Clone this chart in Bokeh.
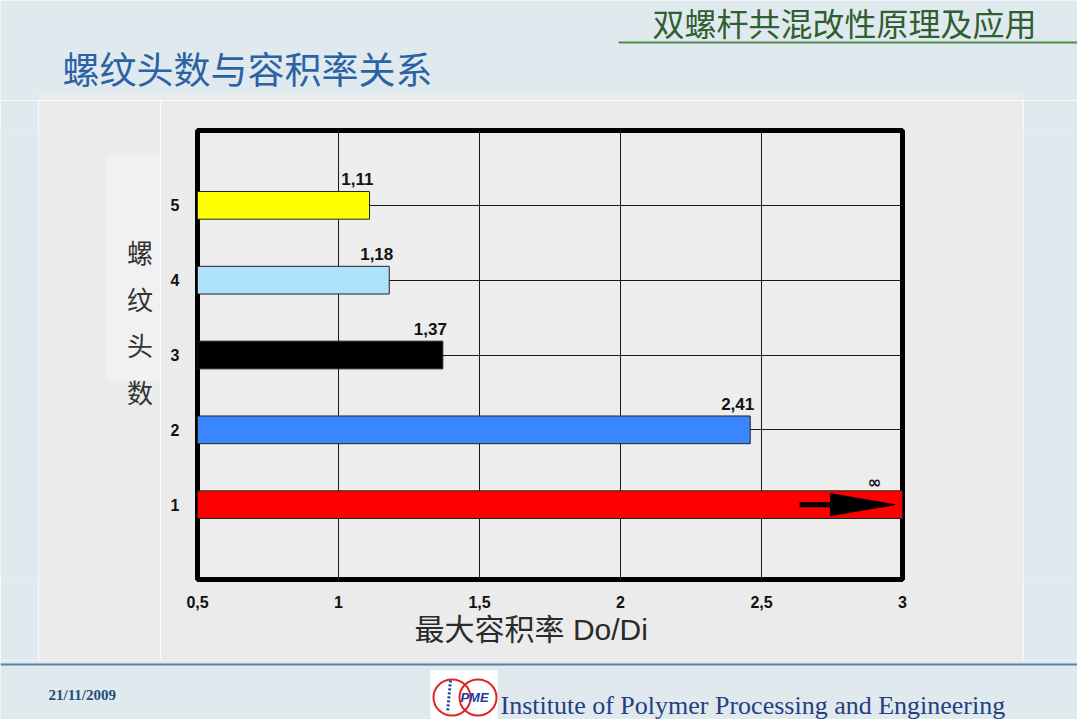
from bokeh.plotting import figure
from bokeh.layouts import column, row
from bokeh.models import Range1d, FixedTicker, ColumnDataSource
from bokeh.core.properties import value
from bokeh.embed import file_html
from bokeh.resources import INLINE

# ---------------- data ----------------
thread_starts = [5, 4, 3, 2, 1]                 # 螺纹头数
bar_ends = [1.11, 1.18, 1.37, 2.46, 3.0]        # bar lengths as drawn (1 → ∞, runs to axis end)
value_labels = ["1,11", "1,18", "1,37", "2,41"]
infinity_label = "∞"
bar_colors = ["#FFFF00", "#AEE1FA", "#000000", "#3A86FF", "#FF0000"]
x_ticks = [0.5, 1, 1.5, 2, 2.5, 3]
x_tick_labels = ["0,5", "1", "1,5", "2", "2,5", "3"]
y_ticks = [1, 2, 3, 4, 5]
y_tick_labels = ["1", "2", "3", "4", "5"]
x_min, x_max = 0.5, 3.0
y_min, y_max = 0, 6
bar_height = 0.37

slide_title = "螺纹头数与容积率关系"
header_text = "双螺杆共混改性原理及应用"
x_title = "最大容积率 Do/Di"
y_title_chars = ["螺", "纹", "头", "数"]
date_text = "21/11/2009"
institute_text = "Institute of Polymer Processing and Engineering"
logo_text = "PME"

# arrow inside the "∞" bar
arrow_tail_x, arrow_neck_x, arrow_tip_x, arrow_half_h = 2.635, 2.745, 2.972, 0.147

SLIDE_BG = "#E0EAEE"
PANEL_BG = "#EBEBEB"
CJK = "Noto Sans CJK SC"

TOP_H = 100          # header strip height (page y 0..100)
ROW_Y0 = TOP_H       # middle row begins here
ROW_H = 560          # middle row: page y 100..660
B_TOP, B_BOTTOM = 30, 81   # chart frame: page y 130..579


def panel(w, h, bg=SLIDE_BG):
    f = figure(width=w, height=h, x_range=Range1d(0, w), y_range=Range1d(h, 0),
               x_axis_type=None, y_axis_type=None, output_backend="svg", toolbar_location=None,
               min_border=0)
    f.background_fill_color = bg
    f.border_fill_color = bg
    f.outline_line_color = None
    return f


def strip(w, bg):
    f = figure(width=w, height=ROW_H, x_axis_type=None, y_axis_type=None, output_backend="svg",
               toolbar_location=None, min_border_left=0, min_border_right=0,
               min_border_top=B_TOP, min_border_bottom=B_BOTTOM)
    f.background_fill_color = bg
    f.border_fill_color = bg
    f.outline_line_color = None
    return f


# ---------------- top strip (header + slide title + top of grey panel) ----------------
top = panel(1077, TOP_H)
top.quad(left=[38], right=[1023], top=[94], bottom=[TOP_H], fill_color=PANEL_BG, line_color=None)
top.text(x=[1036], y=[21], text=[header_text], text_align="right", text_baseline="middle",
         text_font=value(CJK), text_font_size="32px", text_color="#2F5E30")
top.segment(x0=[618], y0=[42], x1=[1077], y1=[42], line_color="#4E8A50", line_width=2)
top.text(x=[62], y=[67], text=[slide_title], text_align="left", text_baseline="middle",
         text_font=value(CJK), text_font_size="37px", text_color="#2B62A5")

# ---------------- left edge strip ----------------
edge = strip(38, SLIDE_BG)

# ---------------- y title strip (page coordinates inside the aligned frame) ----------------
fy0 = ROW_Y0 + B_TOP
fy1 = ROW_Y0 + ROW_H - B_BOTTOM
ytl = figure(width=122, height=ROW_H, x_range=Range1d(38, 160), y_range=Range1d(fy1, fy0),
             x_axis_type=None, y_axis_type=None, output_backend="svg", toolbar_location=None,
             min_border_left=0, min_border_right=0, min_border_top=B_TOP, min_border_bottom=B_BOTTOM)
ytl.background_fill_color = PANEL_BG
ytl.border_fill_color = PANEL_BG
ytl.outline_line_color = None
ytl.quad(left=[105], right=[160], top=[155], bottom=[380], fill_color="#F1F1F1", line_color=None)
ytl.text(x=[139.5] * len(y_title_chars), y=[251 + i * 46.5 for i in range(len(y_title_chars))],
         text=y_title_chars, text_align="center", text_baseline="middle",
         text_font=value(CJK), text_font_size="26px", text_color="#333333")

# ---------------- main chart ----------------
p = figure(width=863, height=ROW_H, x_range=Range1d(x_min, x_max), y_range=Range1d(y_min, y_max),
           output_backend="svg", toolbar_location=None,
           min_border_left=37, min_border_right=121, min_border_top=B_TOP, min_border_bottom=B_BOTTOM)
p.background_fill_color = "#EDEDED"
p.border_fill_color = PANEL_BG
p.outline_line_color = "#000000"
p.outline_line_width = 5

p.xgrid.ticker = FixedTicker(ticks=x_ticks)
p.ygrid.ticker = FixedTicker(ticks=y_ticks)
p.grid.grid_line_color = "#1a1a1a"
p.grid.grid_line_width = 1

for ax in (p.xaxis[0], p.yaxis[0]):
    ax.axis_line_color = None
    ax.major_tick_line_color = None
    ax.minor_tick_line_color = None
    ax.major_label_text_font = "Liberation Sans"
    ax.major_label_text_font_style = "bold"
    ax.major_label_text_font_size = "16px"
    ax.major_label_text_color = "#111111"
p.xaxis.ticker = FixedTicker(ticks=x_ticks)
p.xaxis.major_label_overrides = dict(zip(x_ticks, x_tick_labels))
p.xaxis.major_label_standoff = 10
p.yaxis.ticker = FixedTicker(ticks=y_ticks)
p.yaxis.major_label_overrides = dict(zip(y_ticks, y_tick_labels))
p.yaxis.major_label_standoff = 12

p.xaxis.axis_label = x_title + "\u3000\u2005"
p.xaxis.axis_label_text_font = "Liberation Sans, Noto Sans CJK SC"
p.xaxis.axis_label_text_font_style = "normal"
p.xaxis.axis_label_text_font_size = "30px"
p.xaxis.axis_label_text_color = "#2A2A2A"
p.xaxis.axis_label_standoff = 2

src = ColumnDataSource(dict(y=thread_starts, right=bar_ends, color=bar_colors))
p.hbar(y="y", left=x_min, right="right", height=bar_height, fill_color="color",
       line_color="#222222", line_width=1, source=src)

n = len(value_labels)
lab_src = ColumnDataSource(dict(
    x=bar_ends[:n],
    y=[t + bar_height / 2 for t in thread_starts[:n]],
    text=value_labels))
p.text(x="x", y="y", text="text", source=lab_src, text_align="right", text_baseline="alphabetic",
       x_offset=4, y_offset=-12, text_font=value("Liberation Sans"), text_font_style="bold",
       text_font_size="17px", text_color="#111111")
p.text(x=[bar_ends[n]], y=[thread_starts[n] + bar_height / 2], text=[infinity_label],
       x_offset=-28, y_offset=-9, text_align="center", text_baseline="middle",
       text_font=value("DejaVu Sans"), text_font_style="bold", text_font_size="17px",
       text_color="#111111")

ay = thread_starts[n]
p.segment(x0=[arrow_tail_x], y0=[ay], x1=[arrow_neck_x], y1=[ay], line_width=5, line_color="#000000")
p.patch(x=[arrow_neck_x, arrow_tip_x, arrow_neck_x], y=[ay + arrow_half_h, ay, ay - arrow_half_h],
        fill_color="#000000", line_color="#000000")

# ---------------- right strip ----------------
right = strip(54, SLIDE_BG)

# ---------------- footer ----------------
bottom = panel(1077, 59)
bottom.segment(x0=[0], y0=[4], x1=[1077], y1=[4], line_color="#5A80AA", line_width=2)
bottom.text(x=[48], y=[34], text=[date_text], text_align="left", text_baseline="middle",
            text_font=value("Liberation Serif"), text_font_style="bold", text_font_size="15px",
            text_color="#1F4E79")
bottom.quad(left=[430], right=[497], top=[10], bottom=[59], fill_color="#FFFFFF", line_color=None)
bottom.ellipse(x=[451.5, 477.5], y=[37, 37], width=37, height=36, fill_color=None,
               line_color="#E02424", line_width=2)
bottom.segment(x0=[450], y0=[20], x1=[447], y1=[52], line_color="#1C3C9C", line_width=3,
               line_dash="2 2")
bottom.text(x=[474], y=[37], text=[logo_text], text_align="center", text_baseline="middle",
            text_font=value("Liberation Sans"), text_font_style="bold italic", text_font_size="13px",
            text_color="#1C3C9C")
bottom.text(x=[500], y=[45], text=[institute_text], text_align="left", text_baseline="alphabetic",
            text_font=value("Liberation Serif"), text_font_size="26px", text_color="#23407F")

layout = column(top, row(edge, ytl, p, right), bottom)
open("out.html", "w").write(file_html(layout, INLINE))
